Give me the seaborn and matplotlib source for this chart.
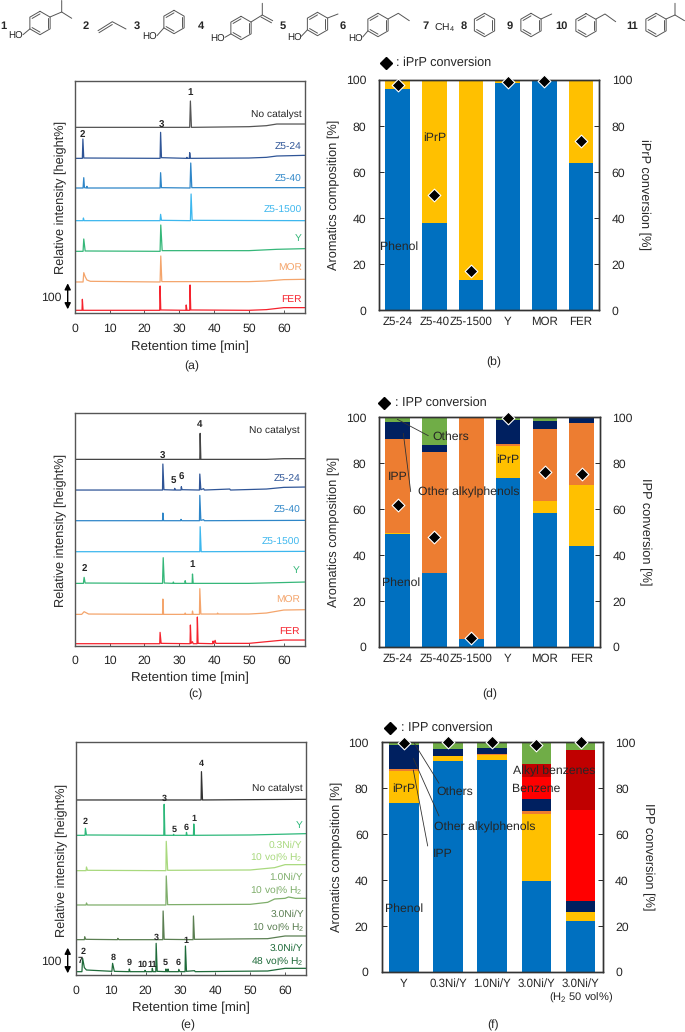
import numpy as np
import matplotlib
matplotlib.use("Agg")
import matplotlib.pyplot as plt
import seaborn as sns

sns.set_style("white")
plt.rcParams['font.family'] = ['Liberation Sans', 'DejaVu Sans']
plt.rcParams['mathtext.default'] = 'regular'
plt.rcParams['text.hinting'] = 'no_hinting'

W, H = 685, 1032
TXT = '#262626'

# chromatogram traces, heights
a_none_t = [0.2, 33.0, 33.2, 33.5, 50, 55, 58, 66]
a_none_v = [558, 558, 637, 558, 560, 563, 568, 568]
a_z24_t = [0.2, 2.2, 2.35, 2.6, 24.5, 24.65, 24.9, 32.1, 32.2, 32.3, 32.9, 33.0, 33.2, 50, 55, 58, 66]
a_z24_v = [465, 465, 523, 466, 465, 543, 467, 465, 468, 465, 465, 482, 465, 466, 468, 472, 474]
a_z40_t = [0.2, 2.4, 2.6, 2.8, 3.4, 3.5, 3.7, 24.5, 24.65, 24.9, 33.1, 33.3, 33.6, 66]
a_z40_v = [376, 376, 407, 377, 376, 381, 376, 376, 422, 377, 376, 451, 377, 377]
a_z1500_t = [0.2, 2.4, 2.5, 2.7, 24.5, 24.65, 24.9, 33.2, 33.4, 33.7, 66]
a_z1500_v = [278, 278, 286, 278, 278, 297, 279, 278, 358, 279, 278]
a_y_t = [0.2, 2.4, 2.6, 3.0, 24.5, 24.7, 25.1, 50, 58, 66]
a_y_v = [186, 186, 223, 187, 186, 265, 188, 188, 192, 194]
a_mor_t = [0.2, 2.4, 2.6, 3.0, 3.5, 4.5, 24.5, 24.7, 25.0, 50, 55, 60, 66]
a_mor_v = [94, 94, 122, 110, 100, 96, 94, 172, 95, 95, 97, 101, 102]
a_fer_t = [0.2, 2.1, 2.2, 2.4, 24.4, 24.5, 24.7, 31.9, 32.0, 32.2, 33.0, 33.1, 33.3, 50, 55, 60, 66]
a_fer_v = [9, 9, 42, 9, 9, 82, 10, 9, 25, 9, 9, 85, 10, 9, 11, 17, 17]

c_none_t = [0.2, 35.9, 36.0, 36.2, 55, 60, 66]
c_none_v = [559, 559, 637, 559, 559, 561, 561]
c_z24_t = [0.2, 25.2, 25.3, 25.6, 28.6, 28.7, 28.9, 30.5, 30.6, 30.8, 35.8, 35.9, 36.2, 37.0, 37.2, 44.5, 44.7, 55, 60, 66]
c_z24_v = [467, 467, 545, 468, 467, 472, 467, 467, 477, 468, 467, 515, 468, 471, 467, 470, 467, 470, 475, 476]
c_z40_t = [0.2, 25.2, 25.3, 25.5, 30.4, 30.5, 30.7, 35.8, 35.9, 36.2, 37.0, 37.2, 66]
c_z40_v = [375, 375, 398, 375, 375, 379, 375, 375, 451, 376, 378, 375, 376]
c_z1500_t = [0.2, 35.9, 36.0, 36.3, 66]
c_z1500_v = [282, 282, 357, 282, 283]
c_y_t = [0.2, 2.5, 2.7, 3.0, 25.2, 25.4, 25.7, 28.2, 28.3, 28.5, 31.6, 31.7, 31.9, 33.7, 33.8, 34.0, 50, 66]
c_y_v = [187, 187, 205, 188, 187, 264, 188, 187, 191, 187, 187, 195, 187, 187, 215, 187, 187, 191]
c_mor_t = [0.2, 2.0, 2.7, 4.0, 25.2, 25.3, 25.5, 31.6, 31.7, 31.9, 33.7, 33.8, 34.0, 35.8, 35.9, 36.2, 40.9, 41.0, 41.2, 50, 55, 60, 66]
c_mor_v = [94, 94, 102, 95, 94, 140, 94, 94, 98, 94, 94, 104, 94, 94, 171, 95, 95, 98, 95, 95, 98, 107, 108]
c_fer_t = [0.2, 24.4, 24.5, 24.8, 33.1, 33.2, 33.4, 33.8, 34.0, 35.1, 35.2, 35.4, 39.6, 39.7, 39.9, 40.3, 40.5, 50, 60, 66]
c_fer_v = [6, 6, 40, 7, 6, 62, 7, 12, 6, 6, 86, 7, 6, 14, 7, 16, 7, 7, 17, 17]

e_none_t = [0.2, 35.9, 36.0, 36.3, 66]
e_none_v = [525, 525, 610, 525, 527]
e_y_t = [0.2, 2.6, 2.7, 3.0, 25.2, 25.3, 25.5, 27.9, 28.0, 28.2, 31.6, 31.7, 31.9, 33.7, 33.8, 34.0, 50, 66]
e_y_v = [419, 419, 440, 420, 419, 512, 419, 419, 422, 419, 419, 428, 419, 419, 453, 419, 420, 424]
e_n03_t = [0.2, 2.9, 3.0, 3.3, 25.8, 25.9, 26.3, 50, 57, 60, 66]
e_n03_v = [313, 313, 324, 314, 313, 401, 314, 315, 322, 331, 331]
e_n10_t = [0.2, 2.9, 3.0, 3.3, 25.8, 25.9, 26.3, 50, 55, 57, 60, 61, 63, 66]
e_n10_v = [210, 210, 216, 210, 210, 297, 211, 212, 218, 228, 230, 234, 230, 230]
e_n30_t = [0.2, 2.4, 2.5, 2.8, 11.9, 12.0, 12.3, 24.9, 25.0, 25.3, 33.6, 33.7, 34.0, 55, 60, 66]
e_n30_v = [106, 106, 115, 107, 106, 110, 106, 106, 192, 107, 106, 177, 107, 109, 117, 117]
e_n48_t = [0.2, 1.7, 1.9, 2.4, 3.0, 10.3, 10.5, 11.0, 15.2, 15.3, 15.5, 19.7, 19.8, 20.0, 21.8, 21.9, 22.1, 22.9, 23.0, 23.3,
           25.7, 25.8, 26.0, 26.3, 26.4, 26.6, 29.4, 29.5, 29.8, 31.3, 31.4, 31.7, 34.0, 34.2, 55, 60, 66]
e_n48_v = [10, 10, 50, 22, 15, 11, 35, 11, 10, 18, 10, 10, 14, 10, 10, 20, 10, 10, 95, 11,
           10, 18, 10, 10, 18, 10, 10, 17, 10, 10, 87, 11, 13, 10, 12, 20, 20]

# stacked bars
b_cats = ['Z5-24', 'Z5-40', 'Z5-1500', 'Y', 'MOR', 'FER']
b_phenol = [96.3, 38, 13, 98.8, 99.5, 64]
b_iprp = [3.7, 62, 86.5, 1.2, 0.5, 36]
b_other = [0, 0, 0.5, 0, 0, 0]
b_conv = [98, 50, 17, 99, 99.5, 73.5]

d_cats = ['Z5-24', 'Z5-40', 'Z5-1500', 'Y', 'MOR', 'FER']
d_phenol = [49, 32, 3.3, 73.7, 58.5, 44]
d_iprp = [0.8, 0.2, 0.3, 14, 5, 26.5]
d_ipp = [40.7, 52.8, 96.4, 0.6, 31.5, 27]
d_alkyl = [7.5, 3, 0, 10.7, 3.3, 2.5]
d_others = [2, 12, 0, 1, 1.7, 0]
d_conv = [61.7, 48, 4, 99.5, 76, 75.5]

f_cats = ['Y', '0.3Ni/Y', '1.0Ni/Y', '3.0Ni/Y', '3.0Ni/Y H2 50']
f_ticks = ['Y', '0.3Ni/Y', '1.0Ni/Y', '3.0Ni/Y', '3.0Ni/Y']
f_phenol = [73.7, 92, 92.5, 39.5, 22]
f_iprp = [14, 2, 2, 29.5, 4]
f_ipp = [0.7, 0, 0.2, 1, 0]
f_alkyl = [10.6, 3.3, 3, 5.5, 4.7]
f_benzene = [0, 0, 0, 9.5, 40]
f_alkylbz = [0, 0, 0, 5.5, 26]
f_others = [1, 2.7, 2.3, 9.5, 3.3]
f_conv = [99.5, 100, 100, 99, 100]

BLUE, GOLD, ORANGE = '#0070C0', '#FFC000', '#ED7D31'
NAVY, GREEN, RED, DKRED = '#002060', '#70AD47', '#FF0000', '#C00000'

FS_TICK = 8.8
FS_LAB = 9.2
FS_NOTE = 8.8
FS_TRACE = 7.4


def px_axes(fig, x0, y0, x1, y1):
    return fig.add_axes([x0 / W, 1 - y1 / H, (x1 - x0) / W, (y1 - y0) / H])


fig = plt.figure(figsize=(W / 100, H / 100), dpi=100)

# overlay in pixel coordinates for the annotations and the structures
ov = fig.add_axes([0, 0, 1, 1], zorder=10)
ov.set_xlim(0, W)
ov.set_ylim(H, 0)
ov.axis('off')


def txt(x, y, s, size=FS_NOTE, ha='center', color=TXT, **kw):
    ov.text(x, y, s, fontsize=size, ha=ha, va='center', color=color, **kw)


def chrom(rect, traces, ylim, xlab_y, ylab_xy):
    ax = px_axes(fig, *rect)
    for t, v, c in traces:
        sns.lineplot(x=t, y=v, color=c, lw=0.9, estimator=None, sort=False, ax=ax)
    ax.set_xlim(0, 66)
    ax.set_ylim(0, ylim)
    ax.set_xticks(range(0, 70, 10))
    ax.set_yticks([])
    ax.tick_params(axis='x', direction='in', length=2.5, width=0.7, color='#555555',
                   labelsize=FS_TICK, labelcolor=TXT, pad=7, bottom=True)
    for s in ax.spines.values():
        s.set_visible(True)
        s.set_color('#555555')
        s.set_linewidth(1.0)
    ax.set_xlabel('Retention time [min]', fontsize=9.5, color=TXT, va='center')
    ax.xaxis.set_label_coords(rect[0] / 2 + rect[2] / 2, xlab_y, transform=ov.transData)
    ax.set_ylabel('Relative intensity [height%]', fontsize=FS_LAB, color=TXT, va='center')
    ax.yaxis.set_label_coords(ylab_xy[0], ylab_xy[1], transform=ov.transData)
    return ax


def stacked(rect, cats, layers, conv, name, yl_left, yl_right):
    ax = px_axes(fig, *rect)
    tops = np.cumsum([l[0] for l in layers], axis=0)
    # tallest first so each lower layer paints over the one above
    for top, (vals, col) in zip(tops[::-1], layers[::-1]):
        sns.barplot(x=cats, y=top, color=col, width=0.67, saturation=1, errorbar=None,
                    linewidth=0, ax=ax)
    ax.set_xlim(-0.5, len(cats) - 0.5)
    ax.set_ylim(0, 100)
    ax.set_yticks(range(0, 120, 20))
    ax.tick_params(axis='y', direction='in', length=3.5, width=0.7, left=True,
                   labelsize=FS_TICK, labelcolor=TXT, pad=9.5)
    ax.tick_params(axis='x', length=0, labelsize=8.3, labelcolor=TXT, pad=4.5)
    ax.set_ylabel('Aromatics composition [%]', fontsize=FS_LAB, color=TXT, va='center')
    ax.yaxis.set_label_coords(yl_left[0], yl_left[1], transform=ov.transData)

    ax2 = ax.twinx()
    sns.scatterplot(x=np.arange(len(cats)), y=conv, marker='D', s=42, color='black',
                    edgecolor='white', linewidth=0.8, clip_on=False, zorder=5, ax=ax2)
    ax2.set_ylim(0, 100)
    ax2.set_xlim(-0.5, len(cats) - 0.5)
    ax2.set_yticks(range(0, 120, 20))
    ax2.tick_params(axis='y', direction='in', length=3.5, width=0.7, right=True,
                    labelsize=FS_TICK, labelcolor=TXT, pad=9)
    ax2.set_ylabel(name + ' conversion [%]', fontsize=FS_LAB, color=TXT, rotation=270, va='center')
    ax2.yaxis.set_label_coords(yl_right[0], yl_right[1], transform=ov.transData)
    for a in (ax, ax2):
        for s in a.spines.values():
            s.set_visible(True)
            s.set_color('#333333')
            s.set_linewidth(1.0)
    return ax


# (a)
chrom((74.7, 80.7, 304.7, 313.3), [
    (a_none_t, a_none_v, '#555555'), (a_z24_t, a_z24_v, '#2F5597'), (a_z40_t, a_z40_v, '#2E86C8'),
    (a_z1500_t, a_z1500_v, '#3DB7EE'), (a_y_t, a_y_v, '#35B779'), (a_mor_t, a_mor_v, '#F4A56C'),
    (a_fer_t, a_fer_v, '#F5222D')], 698, 346.7, (60.7, 197.7))
for y, s, c in [(114.3, 'No catalyst', TXT), (147.3, 'Z5-24', '#2F5597'), (179, 'Z5-40', '#2E86C8'),
                (210, 'Z5-1500', '#3DB7EE'), (238.3, 'Y', '#35B779'), (268.7, 'MOR', '#F4A56C'),
                (299, 'FER', '#F5222D')]:
    txt(301.7, y, s, size=FS_TRACE, ha='right', color=c)
for x, y, s in [(190, 92.3, '1'), (82.7, 134, '2'), (161.3, 125.3, '3')]:
    txt(x, y, s, size=7, weight='bold')
txt(191.7, 366, '(a)')

# (c)
chrom((74.7, 412.7, 304.7, 645.7), [
    (c_none_t, c_none_v, '#444444'), (c_z24_t, c_z24_v, '#2F5597'), (c_z40_t, c_z40_v, '#2E86C8'),
    (c_z1500_t, c_z1500_v, '#3DB7EE'), (c_y_t, c_y_v, '#35B779'), (c_mor_t, c_mor_v, '#F4A56C'),
    (c_fer_t, c_fer_v, '#F5222D')], 699, 678.3, (60.7, 530))
for y, s, c in [(430.7, 'No catalyst', TXT), (479.3, 'Z5-24', '#2F5597'), (510.7, 'Z5-40', '#2E86C8'),
                (542.7, 'Z5-1500', '#3DB7EE'), (570.7, 'Y', '#35B779'), (600.7, 'MOR', '#F4A56C'),
                (631.3, 'FER', '#F5222D')]:
    txt(300, y, s, size=FS_TRACE, ha='right', color=c)
for x, y, s in [(199.3, 424, '4'), (162.3, 456, '3'), (173.3, 480.7, '5'), (181, 477.7, '6'),
                (84, 568.7, '2'), (192, 564.7, '1')]:
    txt(x, y, s, size=7, weight='bold')
txt(195, 694, '(c)')

# (e)
chrom((76, 742.3, 306, 975), [
    (e_none_t, e_none_v, '#333333'), (e_y_t, e_y_v, '#2DB87A'), (e_n03_t, e_n03_v, '#A9D97E'),
    (e_n10_t, e_n10_v, '#7FAE6B'), (e_n30_t, e_n30_v, '#5B7F52'), (e_n48_t, e_n48_v, '#1F6B3A')],
    698, 1008.3, (62.3, 860))
for y, s, c, xr in [(788.3, 'No catalyst', TXT, 302.7), (825.7, 'Y', '#2DB87A', 302.7),
                    (845, '0.3Ni/Y', '#A9D97E', 302.7), (858, '10 vol% H$_2$', '#A9D97E', 302.7),
                    (877.7, '1.0Ni/Y', '#7FAE6B', 302.7), (891, '10 vol% H$_2$', '#7FAE6B', 302.7),
                    (914, '3.0Ni/Y', '#5B7F52', 304), (927.5, '10 vol% H$_2$', '#5B7F52', 304),
                    (948.3, '3.0Ni/Y', '#1F6B3A', 303), (962, '48 vol% H$_2$', '#1F6B3A', 303)]:
    txt(xr, y, s, size=FS_TRACE, ha='right', color=c)
for x, y, s in [(201.3, 764, '4'), (164.3, 799, '3'), (85.3, 821.7, '2'), (174, 829.3, '5'),
                (186, 827.7, '6'), (194, 818.3, '1'), (156.3, 937.7, '3'), (186, 940.7, '1'),
                (82.7, 951.3, '2'), (80, 960.7, '7'), (113.3, 958, '8'), (129, 963, '9'),
                (142.3, 964.7, '10'), (152, 964.3, '11'), (165.3, 963, '5'), (177.7, 963, '6')]:
    txt(x, y, s, size=6.5, weight='bold')
txt(187.3, 1025, '(e)')

# scale arrows
for y0, y1, ty in [(283.3, 309.3, 297.7), (947.7, 973.3, 961.7)]:
    ov.annotate('', xy=(67.7, y0), xytext=(67.7, y1),
                arrowprops=dict(arrowstyle='<|-|>', color='black', lw=1.0, shrinkA=0, shrinkB=0, mutation_scale=9))
    txt(51.7, ty, '100', size=FS_TICK)

# (b)
stacked((379.3, 80, 599.3, 310.3), b_cats,
        [(b_phenol, BLUE), (b_iprp, GOLD), (b_other, ORANGE)], b_conv, 'iPrP', (334, 195.3), (644, 195))
ov.plot([386.3], [62.7], 'D', color='black', ms=6.5)
txt(396, 62.7, ': iPrP conversion', size=9.1, ha='left')
txt(434.3, 137.7, 'iPrP')
txt(399.3, 246.7, 'Phenol')
txt(493.3, 362, '(b)')

# (d)
stacked((379.3, 417.3, 600, 647), d_cats,
        [(d_phenol, BLUE), (d_iprp, GOLD), (d_ipp, ORANGE), (d_alkyl, NAVY), (d_others, GREEN)],
        d_conv, 'IPP', (334, 532), (645, 532))
ov.plot([384], [402.7], 'D', color='black', ms=6.5)
txt(395, 402.7, ': IPP conversion', size=9.1, ha='left')
txt(451, 436.7, 'Others')
txt(397.7, 477, 'IPP')
txt(468.3, 492.7, 'Other alkylphenols')
txt(508, 460.3, 'iPrP')
txt(401.3, 583, 'Phenol')
ov.plot([397.3, 428.3], [419.3, 435.7], color='#333333', lw=0.6)
ov.plot([403.3, 410.7], [433.3, 491.7], color='#333333', lw=0.6)
txt(489.3, 694, '(d)')

# (f)
ax_f = stacked((381.7, 742.3, 602.7, 972), f_cats,
               [(f_phenol, BLUE), (f_iprp, GOLD), (f_ipp, ORANGE), (f_alkyl, NAVY), (f_benzene, RED),
                (f_alkylbz, DKRED), (f_others, GREEN)], f_conv, 'IPP', (336.7, 856.7), (648.3, 856.7))
ax_f.set_xticks(range(len(f_ticks)))
ax_f.set_xticklabels(f_ticks)
txt(581, 998, '(H$_2$ 50 vol%)', size=8)
ov.plot([390], [727.7], 'D', color='black', ms=6.5)
txt(401, 727.7, ': IPP conversion', size=9.1, ha='left')
txt(455.3, 791.3, 'Others')
txt(485, 827, 'Other alkylphenols')
txt(442.7, 853.7, 'IPP')
txt(403.3, 789, 'iPrP')
txt(404.3, 908.7, 'Phenol')
txt(554.3, 771, 'Alkyl benzenes')
txt(535.7, 789, 'Benzene')
ov.plot([414.3, 439], [743.3, 783.3], color='#333333', lw=0.6)
ov.plot([413.3, 439], [758.3, 816], color='#333333', lw=0.6)
ov.plot([413.3, 427.7], [770, 846], color='#333333', lw=0.6)
txt(492.7, 1025, '(f)')


# structures along the top
def ring(cx, cy, r=11.7):
    ang = np.radians(np.arange(90, 451, 60))
    xs, ys = cx + r * np.cos(ang), cy - r * np.sin(ang)
    ov.plot(xs, ys, color='#555555', lw=0.7)
    for i in (0, 2, 4):
        xa, ya = cx + 0.78 * (xs[i] - cx), cy + 0.78 * (ys[i] - cy)
        xb, yb = cx + 0.78 * (xs[i + 1] - cx), cy + 0.78 * (ys[i + 1] - cy)
        ov.plot([xa, xb], [ya, yb], color='#555555', lw=0.7)


def bond(*pts):
    ov.plot([p[0] for p in pts], [p[1] for p in pts], color='#555555', lw=0.7)


for cx, cy in [(40, 23), (174, 22), (241, 28), (317.5, 24), (378, 25), (484.5, 25), (531, 25), (586, 25.3), (656, 25)]:
    ring(cx, cy)
bond((50, 17), (61.7, 12), (61.7, 0.5))
bond((61.7, 12), (71.7, 18.3))
bond((98, 30.7), (112.3, 21.7), (126, 29))
bond((99, 32.7), (112.3, 24.5))
bond((251, 22), (262.3, 15), (262.3, 3.3))
bond((262.3, 15), (272.7, 20.7))
bond((261, 17), (271.5, 22.8))
bond((327.6, 18), (338, 14))
bond((388, 19), (398.3, 13.3), (409.3, 20.7))
bond((541, 19), (551.7, 14))
bond((596, 19), (605, 14), (615.7, 21.7))
bond((666, 19), (675, 15), (675, 3.3))
bond((675, 15), (684.5, 20.7))
for x, y, cx, cy in [(16, 36.7, 40, 23), (150, 37.7, 174, 22), (218, 39.3, 241, 28),
                     (294.3, 38.3, 317.5, 24), (355.7, 39, 378, 25)]:
    bond((cx - 10.1, cy + 5.9), (x + 7, y - 2))
    txt(x, y, 'HO', size=7)
for x, s in [(3, '1'), (86, '2'), (137, '3'), (201, '4'), (283, '5'), (343, '6'), (425.7, '7'),
             (463.3, '8'), (510, '9'), (561.7, '10'), (631.7, '11')]:
    txt(x, 26.5, s, size=8, weight='bold')
txt(444.3, 27.3, 'CH$_4$', size=7.5)

fig.savefig('out.png', dpi=100)
